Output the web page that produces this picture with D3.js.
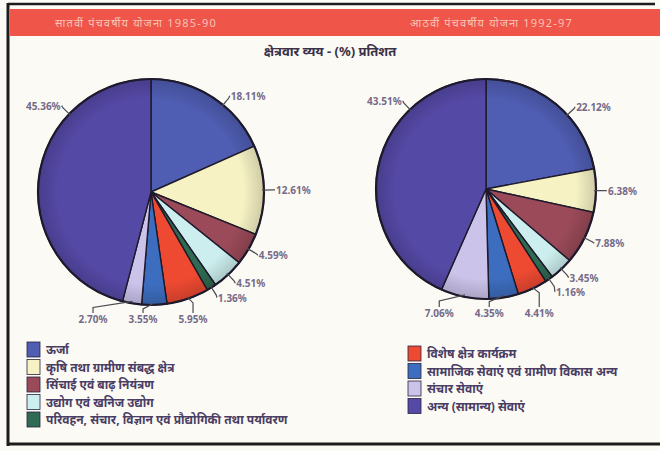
<!DOCTYPE html>
<html>
<head>
<meta charset="utf-8">
<script src="https://cdn.jsdelivr.net/npm/d3@7"></script>
<style>
  body { margin: 0; background: #fff; }
  text { font-family: "Noto Sans", "DejaVu Sans", sans-serif; }
</style>
</head>
<body>
<svg id="chart" width="660" height="451"></svg>
<script>
// categories in slice order (clockwise from 12 o'clock)
var categories = [
    "ऊर्जा",
    "कृषि तथा ग्रामीण संबद्ध क्षेत्र",
    "सिंचाई एवं बाढ़ नियंत्रण",
    "उद्योग एवं खनिज उद्योग",
    "परिवहन, संचार, विज्ञान एवं प्रौद्योगिकी तथा पर्यावरण",
    "विशेष क्षेत्र कार्यक्रम",
    "सामाजिक सेवाएं एवं ग्रामीण विकास अन्य",
    "संचार सेवाएं",
    "अन्य (सामान्य) सेवाएं"
];
var plan1Values = [18.11, 12.61, 4.59, 4.51, 1.36, 5.95, 3.55, 2.70, 45.36];
var plan2Values = [22.12, 6.38, 7.88, 3.45, 1.16, 4.41, 4.35, 7.06, 43.51];
var planTitles = ["सातवीं पंचवर्षीय योजना 1985-90", "आठवीं पंचवर्षीय योजना 1992-97"];
var chartTitle = "क्षेत्रवार व्यय - (%) प्रतिशत";

var sliceColors = ["#4f5db2", "#f6f2c4", "#9a4a58", "#cdeeee", "#2f6a52",
                   "#ee4a32", "#3d6dbe", "#cbc3ea", "#5549a6"];

var svg = d3.select("#chart");
var color = d3.scaleOrdinal().domain(d3.range(categories.length)).range(sliceColors);
var pie = d3.pie().sort(null).value(function(d) { return d; });
var fmt = function(v) { return v.toFixed(2) + "%"; };

// darker rim, like the printed pies
var grad = svg.append("defs").append("radialGradient").attr("id", "rim");
grad.append("stop").attr("offset", "0%").attr("stop-color", "#000").attr("stop-opacity", 0);
grad.append("stop").attr("offset", "82%").attr("stop-color", "#000").attr("stop-opacity", 0);
grad.append("stop").attr("offset", "100%").attr("stop-color", "#000").attr("stop-opacity", 0.16);

// paper + frame
svg.append("rect").attr("width", 660).attr("height", 451).attr("fill", "#fbfaf5");
svg.append("rect").attr("x", 10).attr("y", 9).attr("width", 650).attr("height", 27).attr("fill", "#ef5548");
svg.append("line").attr("x1", 8).attr("x2", 655).attr("y1", 4).attr("y2", 4).attr("stroke", "#1c1c1c").attr("stroke-width", 2.5);
svg.append("line").attr("x1", 8).attr("x2", 660).attr("y1", 444).attr("y2", 444).attr("stroke", "#1c1c1c").attr("stroke-width", 3);
svg.append("line").attr("x1", 8).attr("x2", 8).attr("y1", 3).attr("y2", 446).attr("stroke", "#1c1c1c").attr("stroke-width", 3);

svg.selectAll(".plan-title")
    .data(planTitles)
    .enter().append("text")
    .attr("class", "plan-title")
    .attr("x", function(d, i) { return i == 0 ? 55 : 410; })
    .attr("y", 27)
    .attr("font-size", "11px")
    .attr("letter-spacing", "1.2px")
    .attr("fill", "#f8c2b8")
    .text(function(d) { return d; });

svg.append("text")
    .attr("x", 330).attr("y", 56)
    .attr("text-anchor", "middle")
    .attr("font-size", "13px")
    .attr("font-weight", "bold")
    .attr("fill", "#3a3048")
    .text(chartTitle);

function drawPie(values, cx, cy, r) {
    var g = svg.append("g").attr("transform", "translate(" + cx + "," + cy + ")");
    var arcs = pie(values);
    var arc = d3.arc().innerRadius(0).outerRadius(r);

    g.selectAll("path")
        .data(arcs)
        .enter().append("path")
        .attr("d", arc)
        .attr("fill", function(d, i) { return color(i); })
        .attr("stroke", "#1e1a2c")
        .attr("stroke-width", 1.4);

    g.append("circle").attr("r", r).attr("fill", "url(#rim)").attr("stroke", "#1e1a2c").attr("stroke-width", 2.2);

    // label layout: big slices lean towards their end, bottom ones go on a row
    var side = [], bottom = [];
    arcs.forEach(function(d, i) {
        var span = d.endAngle - d.startAngle;
        var a = span > Math.PI * 0.6 ? d.startAngle + span * 0.72 : (d.startAngle + d.endAngle) / 2;
        if (span > Math.PI * 0.3 && span < Math.PI * 0.6) a = d.startAngle + span * 0.6;
        var deg = a * 180 / Math.PI;
        var lab = { a: a, text: fmt(values[i]) };
        if (deg > 150 && deg < 210) {
            lab.x = (r + 16) * Math.sin(a);
            lab.y = r + 18;
            lab.anchor = "middle";
            bottom.push(lab);
        } else {
            lab.x = (r + 12) * Math.sin(a);
            lab.y = -(r + 12) * Math.cos(a) + 4;
            lab.anchor = Math.sin(a) > 0 ? "start" : "end";
            side.push(lab);
        }
    });
    var right = side.filter(function(l) { return l.anchor == "start"; }).sort(function(a, b) { return a.y - b.y; });
    for (var k = 1; k < right.length; k++) {
        if (right[k].y < right[k - 1].y + 14) right[k].y = right[k - 1].y + 14;
    }
    bottom.sort(function(a, b) { return b.x - a.x; });
    for (k = 1; k < bottom.length; k++) {
        if (bottom[k].x > bottom[k - 1].x - 50) bottom[k].x = bottom[k - 1].x - 50;
    }

    side.forEach(function(l) {
        var x0 = (r - 2) * Math.sin(l.a), y0 = -(r - 2) * Math.cos(l.a);
        var x1 = (r + 9) * Math.sin(l.a), y1 = -(r + 9) * Math.cos(l.a);
        g.append("polyline")
            .attr("points", [[x0, y0], [x1, y1], [l.x + (l.anchor == "start" ? -1 : 1), l.y - 4]].join(" "))
            .attr("fill", "none").attr("stroke", "#4a4a50").attr("stroke-width", 1.2);
    });
    bottom.forEach(function(l) {
        var x0 = (r - 2) * Math.sin(l.a), y0 = -(r - 2) * Math.cos(l.a);
        g.append("polyline")
            .attr("points", [[x0, y0], [l.x, y0 + 6], [l.x, l.y - 10]].join(" "))
            .attr("fill", "none").attr("stroke", "#4a4a50").attr("stroke-width", 1.2);
    });

    g.selectAll(".pct")
        .data(side.concat(bottom))
        .enter().append("text")
        .attr("class", "pct")
        .attr("x", function(d) { return d.x; })
        .attr("y", function(d) { return d.y; })
        .attr("text-anchor", function(d) { return d.anchor; })
        .attr("font-size", "10px")
        .attr("font-weight", "bold")
        .attr("fill", "#756a88")
        .text(function(d) { return d.text; });
}

drawPie(plan1Values, 151, 192, 113);
drawPie(plan2Values, 486, 189, 110);

// legends: first five categories on the left, the rest on the right
function drawLegend(idx, x, y0) {
    var row = svg.selectAll(null)
        .data(idx)
        .enter().append("g")
        .attr("transform", function(d, j) { return "translate(" + x + "," + (y0 + j * 17.5) + ")"; });
    row.append("rect")
        .attr("width", 13).attr("height", 15)
        .attr("fill", function(d) { return color(d); })
        .attr("stroke", "#2a2440").attr("stroke-width", 0.8);
    row.append("text")
        .attr("x", 19).attr("y", 12)
        .attr("font-size", "12px")
        .attr("font-weight", "bold")
        .attr("fill", "#4a3d63")
        .text(function(d) { return categories[d]; });
}
drawLegend([0, 1, 2, 3, 4], 27, 342);
drawLegend([5, 6, 7, 8], 408, 346);
</script>
</body>
</html>
